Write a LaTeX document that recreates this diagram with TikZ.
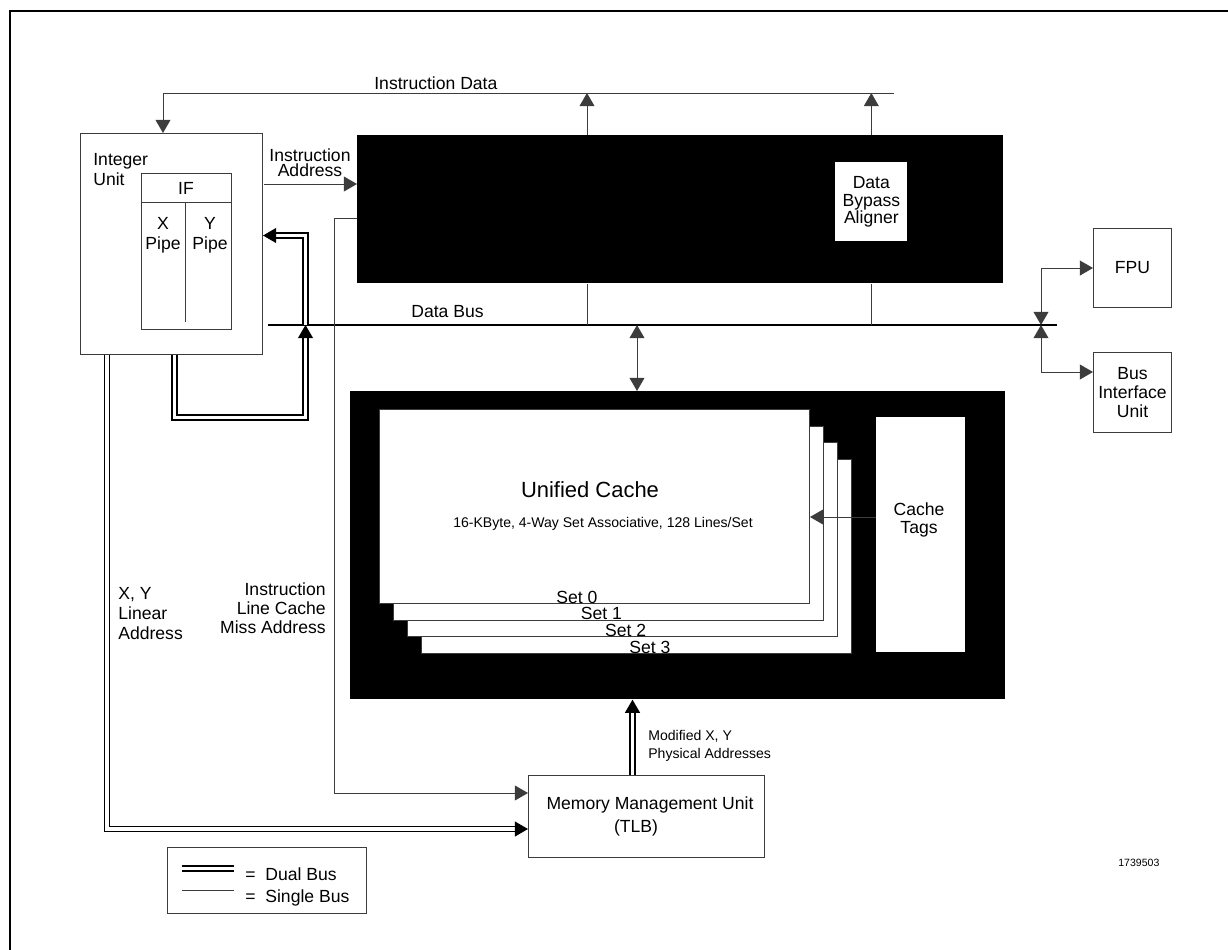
\documentclass[tikz,border=0pt]{standalone}
\usepackage{fontspec}
\setmainfont{Liberation Sans}
\usetikzlibrary{arrows.meta}
\definecolor{wireclr}{RGB}{60,60,60}
\tikzset{
  unitbox/.style={draw=wireclr, line width=0.6pt, fill=white, inner sep=0pt},
  darkbox/.style={fill=black, inner sep=0pt},
  txt/.style={font=\fontsize{10}{11.5}\selectfont, inner sep=0pt},
  smalltxt/.style={font=\fontsize{8}{10.2}\selectfont, inner sep=0pt},
  wire/.style={draw=wireclr, line width=0.55pt},
  dualline/.style={draw=black, line width=0.75pt, double=white, double distance=2.1pt},
  twobus/.style={dualline, ->},
}

\begin{document}
\begin{tikzpicture}[x=0.02cm, y=-0.02cm, >={Triangle[length=7.5pt,width=8.5pt]}]
  \useasboundingbox (0,0) rectangle (1228,950);
  \draw[line width=1.7pt] (10,950) -- (10,11) -- (1228,11);

  % integer unit
  \node[unitbox, anchor=north west, minimum width=3.64cm, minimum height=4.42cm] (intunit) at (80,133) {};
  \node[txt, anchor=west, align=left, font=\fontsize{10}{11.8}\selectfont] (intlbl) at (93,169.5) {Integer\\Unit};
  \node[unitbox, anchor=north west, minimum width=1.8cm, minimum height=3.12cm] (ifbox) at (141,173) {};
  \draw[wire] (141,202) -- (231,202);
  \draw[wire] (185,202) -- (185,322);
  \node[txt] (iflbl) at (186,188) {IF};
  \node[txt, align=center] (xpipe) at (163,235) {X\\Pipe};
  \node[txt, align=center] (ypipe) at (210,235) {Y\\Pipe};

  % cache control and data bypass aligner
  \node[darkbox, anchor=north west, minimum width=12.92cm, minimum height=2.96cm] (ctrl) at (357,135) {};
  \node[fill=white, inner sep=0pt, anchor=north west, minimum width=1.44cm, minimum height=1.58cm,
        align=center, font=\fontsize{10}{9.8}\selectfont] (dba) at (835,162) {Data\\Bypass\\Aligner};

  % unified cache
  \node[darkbox, anchor=north west, minimum width=13.1cm, minimum height=6.16cm] (cache) at (350,391) {};
  \foreach \i in {3,2,1,0}
    \node[unitbox, anchor=north west, minimum width=8.6cm, minimum height=3.88cm] (set\i) at (379+14*\i,409+16.7*\i) {};
  \foreach \i in {0,...,3}
    \node[txt, anchor=base] (setlbl\i) at (577+24.3*\i,603+16.7*\i) {Set \i};
  \node[font=\fontsize{12.5}{14}\selectfont, inner sep=0pt] (uclbl) at (590,490) {Unified Cache};
  \node[smalltxt] (ucsub) at (603,524) {16-KByte, 4-Way Set Associative, 128 Lines/Set};
  \node[fill=white, inner sep=0pt, anchor=north west, minimum width=1.78cm, minimum height=4.7cm] (tags) at (876,417) {};
  \node[txt, align=center, font=\fontsize{10}{9.8}\selectfont] (tagslbl) at (919,520) {Cache\\Tags};

  % fpu, bus interface unit, mmu
  \node[unitbox, txt, anchor=north west, minimum width=1.56cm, minimum height=1.58cm] (fpu) at (1093,228) {FPU};
  \node[unitbox, txt, anchor=north west, minimum width=1.56cm, minimum height=1.6cm, align=center,
        font=\fontsize{10}{11}\selectfont] (biu) at (1093,352) {Bus\\Interface\\Unit};
  \node[unitbox, anchor=north west, minimum width=4.72cm, minimum height=1.64cm] (mmu) at (528,775) {};
  \node[txt] (mmulbl) at (650,805) {Memory Management Unit};
  \node[txt] (tlblbl) at (636,828) {(TLB)};

  % instruction data and instruction address
  \coordinate (idL) at (163,93);
  \coordinate (idR) at (894,93);
  \coordinate (fetch) at (587,93);
  \draw[wire, ->] (idR) -- (idL) -- (idL |- intunit.north);
  \draw[wire, ->] (fetch |- ctrl.north) -- (fetch);
  \draw[wire, ->] (dba |- ctrl.north) -- (dba |- idR);
  \node[txt, anchor=base west] (idlbl) at (374,89.5) {Instruction Data};
  \coordinate (iaddr) at (264,184);
  \draw[wire, ->] (iaddr) -- (iaddr -| ctrl.west);
  \node[txt, align=center, font=\fontsize{10}{8.5}\selectfont] (ialbl) at (310,163) {Instruction\\Address};

  % data bus
  \coordinate (busL) at (268,325);
  \coordinate (busR) at (1057,325);
  \draw[line width=0.7pt] (busL) -- (busR);
  \node[txt] (buslbl) at (447.5,312) {Data Bus};
  \draw[wire] (fetch |- ctrl.south) -- (fetch |- busL);
  \draw[wire] (dba |- ctrl.south) -- (dba |- busL);
  \coordinate (cx) at (637,325);
  \draw[wire, <->] (cx) -- (cx |- cache.north);
  \coordinate (jn) at (1041,325);
  \coordinate (biuin) at (1093,372);
  \draw[wire, <->] (jn) |- (fpu.west);
  \draw[wire, <->] (jn) |- (biuin);

  % integer unit loops
  \coordinate (loopA) at (174.5,417.5);
  \coordinate (loopB) at (305.5,417.5);
  \draw[twobus] (loopA |- intunit.south) -- (loopA) -- (loopB) -- (loopB |- busL);
  \coordinate (fbk) at (305.5,235.5);
  \draw[twobus] (fbk |- busL) -- (fbk) -- (fbk -| intunit.east);

  % addresses to mmu
  \coordinate (miss) at (334,218);
  \coordinate (mmuone) at (528,793);
  \draw[wire, ->] (miss -| ctrl.west) -- (miss) |- (mmuone);
  \node[txt, anchor=east, align=right, font=\fontsize{10}{10.8}\selectfont] (misslbl) at (326,608) {Instruction\\Line Cache\\Miss Address};
  \coordinate (lin) at (107,829);
  \draw[twobus] (lin |- intunit.south) -- (lin) -- (lin -| mmu.west);
  \node[txt, anchor=west, align=left, font=\fontsize{10}{11.6}\selectfont] (linlbl) at (118,613.5) {X, Y\\Linear\\Address};
  \coordinate (mup) at (632.5,775);
  \draw[twobus] (mup) -- (mup |- cache.south);
  \node[smalltxt, anchor=west, align=left] (physlbl) at (648,746) {Modified X, Y\\Physical Addresses};

  % tags to sets
  \coordinate (tagarr) at (876,517);
  \draw[wire, ->] (tagarr) -- (tagarr -| set0.east);

  % legend
  \node[unitbox, anchor=north west, minimum width=3.98cm, minimum height=1.32cm] (legend) at (167,847) {};
  \draw[dualline] (182,868.5) -- (234,868.5);
  \draw[wire] (182,890) -- (234,890);
  \node[txt, anchor=west] (duallbl) at (245,874) {=\ \ Dual Bus};
  \node[txt, anchor=west] (singlelbl) at (245,898) {=\ \ Single Bus};
  \node[font=\fontsize{6}{7}\selectfont, inner sep=0pt, anchor=west] (figid) at (1118,863) {1739503};
\end{tikzpicture}
\end{document}
